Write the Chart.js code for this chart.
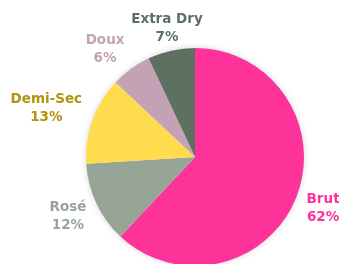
<!DOCTYPE html>
<html>
<head>
<meta charset="utf-8">
<script src="https://cdn.jsdelivr.net/npm/chart.js@4/dist/chart.umd.min.js"></script>
<style>
  html, body { margin: 0; padding: 0; background: #fff; overflow: hidden; }
  #wrap { width: 339px; height: 264px; overflow: hidden; }
  #box { width: 339px; height: 268px; }
</style>
</head>
<body>
<div id="wrap"><div id="box"><canvas id="pieChart"></canvas></div></div>
<script>
/* data */
const labels = ['Brut', 'Rosé', 'Demi-Sec', 'Doux', 'Extra Dry'];
const shares = [62, 12, 13, 6, 7];
const sliceColors = ['#fe3399', '#97a596', '#fedc4e', '#c4a2b6', '#5e7060'];
const labelColors = ['#fe3399', '#97a596', '#b3930b', '#c4a2b6', '#5e7060'];

/* soft shadow behind the whole pie */
const pieShadow = {
  id: 'pieShadow',
  beforeDatasetsDraw(chart) {
    const arc = chart.getDatasetMeta(0).data[0];
    if (!arc) return;
    const ctx = chart.ctx;
    ctx.save();
    ctx.shadowColor = 'rgba(0,0,0,0.18)';
    ctx.shadowBlur = 7;
    ctx.fillStyle = '#fff';
    ctx.beginPath();
    ctx.arc(arc.x, arc.y, arc.outerRadius - 0.5, 0, Math.PI * 2);
    ctx.fill();
    ctx.restore();
  }
};

/* outside labels: name + percent, box pushed off the arc edge */
const outLabels = {
  id: 'outLabels',
  afterDatasetsDraw(chart) {
    const ctx = chart.ctx;
    const arcs = chart.getDatasetMeta(0).data;
    ctx.save();
    ctx.font = 'bold 13.5px "DejaVu Sans"';
    ctx.textAlign = 'center';
    ctx.textBaseline = 'middle';
    arcs.forEach((arc, i) => {
      const mid = (arc.startAngle + arc.endAngle) / 2;
      const cos = Math.cos(mid), sin = Math.sin(mid);
      const line1 = labels[i];
      const line2 = shares[i] + '%';
      const hw = Math.max(ctx.measureText(line1).width, ctx.measureText(line2).width) / 2;
      const hh = 17;
      const fx = Math.max(0, Math.min(1, (Math.abs(cos) - 0.2) / 0.35));
      const fy = 0.3 + 0.4 * Math.abs(sin);
      const ex = arc.x + cos * (arc.outerRadius + 11);
      const ey = arc.y + sin * (arc.outerRadius + 11);
      const cx = ex + Math.sign(cos) * hw * fx;
      const cy = ey + Math.sign(sin) * hh * fy;
      ctx.fillStyle = labelColors[i];
      ctx.fillText(line1, cx, cy - 9);
      ctx.fillText(line2, cx, cy + 9);
    });
    ctx.restore();
  }
};

new Chart(document.getElementById('pieChart'), {
  type: 'pie',
  data: {
    labels: labels,
    datasets: [{
      data: shares,
      backgroundColor: sliceColors,
      borderWidth: 0,
      hoverOffset: 0
    }]
  },
  options: {
    responsive: true,
    maintainAspectRatio: false,
    animation: false,
    layout: { padding: { left: 86, right: 35, top: 48, bottom: 2 } },
    plugins: {
      legend: { display: false },
      tooltip: { enabled: false }
    }
  },
  plugins: [pieShadow, outLabels]
});
</script>
</body>
</html>
